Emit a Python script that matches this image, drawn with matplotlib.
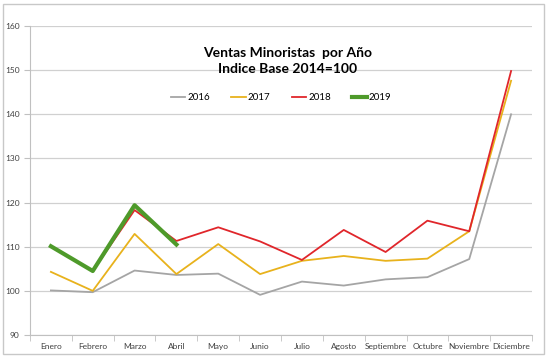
import matplotlib.pyplot as plt
from matplotlib.patches import Rectangle

meses = ["Enero", "Febrero", "Marzo", "Abril", "Mayo", "Junio", "Julio",
         "Agosto", "Septiembre", "Octubre", "Noviembre", "Diciembre"]
v2016 = [100.1, 99.7, 104.6, 103.6, 103.9, 99.1, 102.1, 101.2, 102.6, 103.1, 107.2, 140.0]
v2017 = [104.3, 100.0, 112.9, 103.8, 110.6, 103.8, 106.8, 107.9, 106.8, 107.3, 113.5, 147.6]
v2018 = [110.1, 104.5, 118.3, 111.3, 114.4, 111.2, 107.0, 113.8, 108.8, 115.9, 113.5, 149.8]
v2019 = [110.1, 104.5, 119.4, 110.5]
yticks = [90, 100, 110, 120, 130, 140, 150, 160]

plt.rcParams['font.family'] = ['Lato', 'DejaVu Sans']

fig = plt.figure(figsize=(5.47, 3.58), dpi=100)
# light frame around the chart, like the Excel chart area
fig.patches.append(Rectangle((0.006, 0.012), 0.988, 0.977, transform=fig.transFigure,
                             fill=False, edgecolor="#c8c8c8", linewidth=1))
ax = fig.add_axes([30 / 547, 1 - 335 / 358, 502 / 547, 309 / 358])

x = range(len(meses))
ax.plot(x, v2016, color="#a5a5a5", lw=1.3, label="2016")
ax.plot(x, v2017, color="#e8b21c", lw=1.3, label="2017")
ax.plot(x, v2018, color="#e0262b", lw=1.3, label="2018")
ax.plot(range(len(v2019)), v2019, color="#4e9a2a", lw=3, label="2019")

ax.set_ylim(90, 160)
ax.set_yticks(yticks)
ax.set_xlim(-0.5, len(meses) - 0.5)
ax.set_xticks(list(x))
ax.set_xticklabels(meses)
ax.set_xticks([i - 0.5 for i in range(len(meses) + 1)], minor=True)
ax.tick_params(axis="x", which="major", length=0, labelsize=6, pad=6, colors="#404040")
ax.tick_params(axis="x", which="minor", length=4, color="#c0c0c0")
ax.tick_params(axis="y", length=4, color="#c0c0c0", labelsize=6, colors="#404040")
ax.grid(axis="y", color="#d0d0d0", lw=0.9)
for s in ["top", "right"]:
    ax.spines[s].set_visible(False)
for s in ["left", "bottom"]:
    ax.spines[s].set_color("#c0c0c0")

fig.text(288 / 547, 1 - 61 / 358, "Ventas Minoristas  por Año\nIndice Base 2014=100",
         ha="center", va="center", fontsize=10, fontweight="bold", linespacing=1.45)
ax.legend(loc="center", bbox_to_anchor=(0.5, 1 - (98 - 26) / 309), ncol=4, frameon=False,
          fontsize=7, handlelength=1.5, columnspacing=2.2, handletextpad=0.2)

fig.savefig("out.png", dpi=100)
